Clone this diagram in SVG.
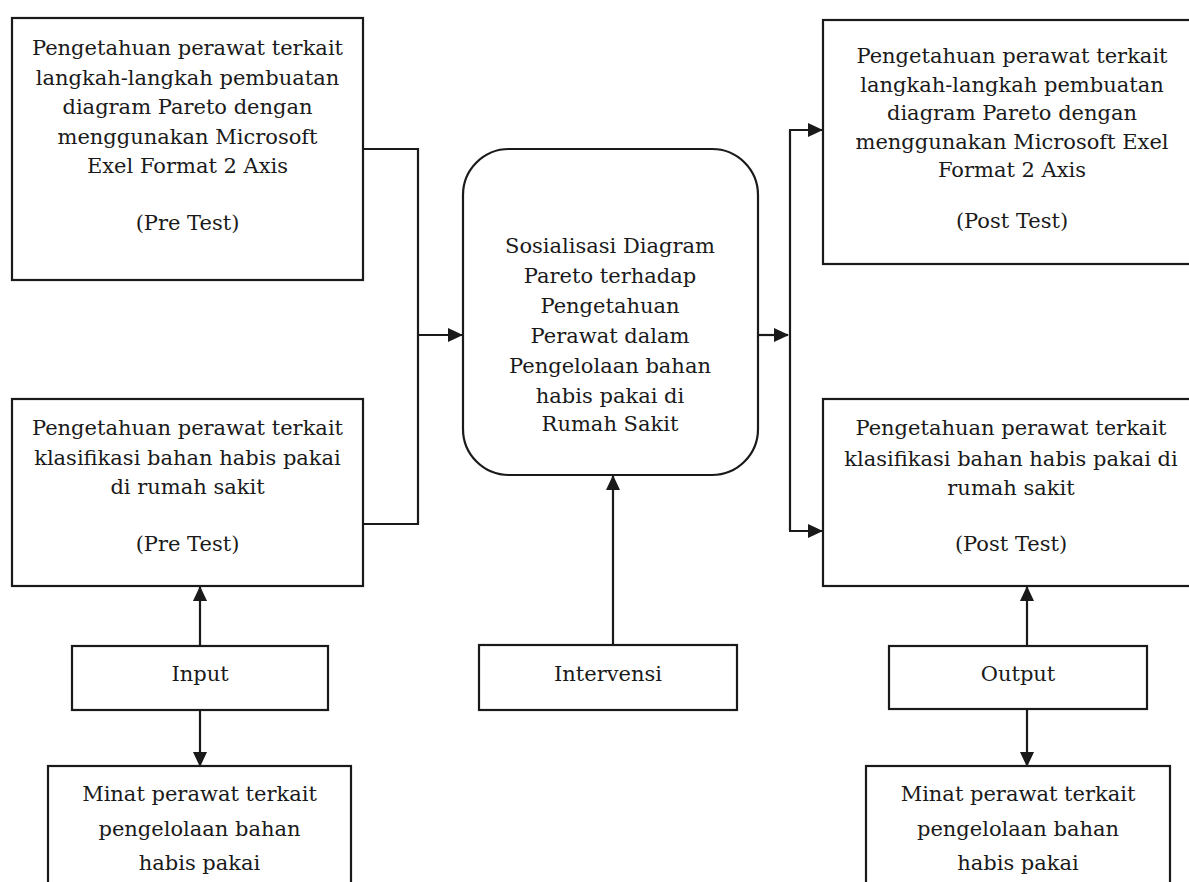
<svg xmlns="http://www.w3.org/2000/svg" width="1189" height="882" viewBox="0 0 1189 882">
<defs>
<marker id="arr" markerUnits="userSpaceOnUse" markerWidth="15" markerHeight="14" refX="14" refY="7" orient="auto">
<path d="M0,0 L15,7 L0,14 z" fill="#1a1a1a"/>
</marker>
<style>
.box{fill:#fff;stroke:#1a1a1a;stroke-width:2.2}
.t{font-family:"DejaVu Serif","Liberation Serif",serif;font-size:21px;fill:#1a1a1a;text-anchor:middle}
.c{fill:none;stroke:#1a1a1a;stroke-width:2.2}
</style>
</defs>
<rect width="1189" height="882" fill="#fff"/>
<g id="connectors">
<path class="c" d="M363,149 H418 V524 H363"/>
<path class="c" d="M418,335 H462" marker-end="url(#arr)"/>
<path class="c" d="M758,335 H788" marker-end="url(#arr)"/>
<path class="c" d="M790,130 V531"/>
<path class="c" d="M789,130 H822" marker-end="url(#arr)"/>
<path class="c" d="M789,531 H822" marker-end="url(#arr)"/>
<path class="c" d="M613,645 V476" marker-end="url(#arr)"/>
<path class="c" d="M200,646 V587" marker-end="url(#arr)"/>
<path class="c" d="M200,710 V766" marker-end="url(#arr)"/>
<path class="c" d="M1027,646 V587" marker-end="url(#arr)"/>
<path class="c" d="M1027,709 V766" marker-end="url(#arr)"/>
</g>
<g id="pre1">
<rect class="box" x="12" y="18" width="351" height="262"/>
<text class="t" x="187.5" y="55">Pengetahuan perawat terkait</text>
<text class="t" x="187.5" y="84.5">langkah-langkah pembuatan</text>
<text class="t" x="187.5" y="114">diagram Pareto dengan</text>
<text class="t" x="187.5" y="143.5">menggunakan Microsoft</text>
<text class="t" x="187.5" y="173">Exel Format 2 Axis</text>
<text class="t" x="187.5" y="230">(Pre Test)</text>
</g>
<g id="pre2">
<rect class="box" x="12" y="399" width="351" height="187"/>
<text class="t" x="187.5" y="435">Pengetahuan perawat terkait</text>
<text class="t" x="187.5" y="465">klasifikasi bahan habis pakai</text>
<text class="t" x="187.5" y="494">di rumah sakit</text>
<text class="t" x="187.5" y="551">(Pre Test)</text>
</g>
<g id="center">
<rect class="box" x="463" y="149" width="295" height="326" rx="46" ry="46"/>
<text class="t" x="610" y="253">Sosialisasi Diagram</text>
<text class="t" x="610" y="283">Pareto terhadap</text>
<text class="t" x="610" y="313">Pengetahuan</text>
<text class="t" x="610" y="343">Perawat dalam</text>
<text class="t" x="610" y="373">Pengelolaan bahan</text>
<text class="t" x="610" y="403">habis pakai di</text>
<text class="t" x="610" y="431">Rumah Sakit</text>
</g>
<g id="post1">
<rect class="box" x="823" y="20" width="380" height="244"/>
<text class="t" x="1012" y="63">Pengetahuan perawat terkait</text>
<text class="t" x="1012" y="92">langkah-langkah pembuatan</text>
<text class="t" x="1012" y="120">diagram Pareto dengan</text>
<text class="t" x="1012" y="149">menggunakan Microsoft Exel</text>
<text class="t" x="1012" y="177">Format 2 Axis</text>
<text class="t" x="1012" y="228">(Post Test)</text>
</g>
<g id="post2">
<rect class="box" x="823" y="399" width="380" height="187"/>
<text class="t" x="1011" y="435">Pengetahuan perawat terkait</text>
<text class="t" x="1011" y="466">klasifikasi bahan habis pakai di</text>
<text class="t" x="1011" y="495">rumah sakit</text>
<text class="t" x="1011" y="551">(Post Test)</text>
</g>
<g id="input">
<rect class="box" x="72" y="646" width="256" height="64"/>
<text class="t" x="200" y="681">Input</text>
</g>
<g id="intervensi">
<rect class="box" x="479" y="645" width="258" height="65"/>
<text class="t" x="608" y="681">Intervensi</text>
</g>
<g id="output">
<rect class="box" x="889" y="646" width="258" height="63"/>
<text class="t" x="1018" y="681">Output</text>
</g>
<g id="minat1">
<rect class="box" x="48" y="766" width="303" height="130"/>
<text class="t" x="199.5" y="801">Minat perawat terkait</text>
<text class="t" x="199.5" y="836">pengelolaan bahan</text>
<text class="t" x="199.5" y="870">habis pakai</text>
</g>
<g id="minat2">
<rect class="box" x="866" y="766" width="304" height="130"/>
<text class="t" x="1018" y="801">Minat perawat terkait</text>
<text class="t" x="1018" y="836">pengelolaan bahan</text>
<text class="t" x="1018" y="870">habis pakai</text>
</g>
</svg>
